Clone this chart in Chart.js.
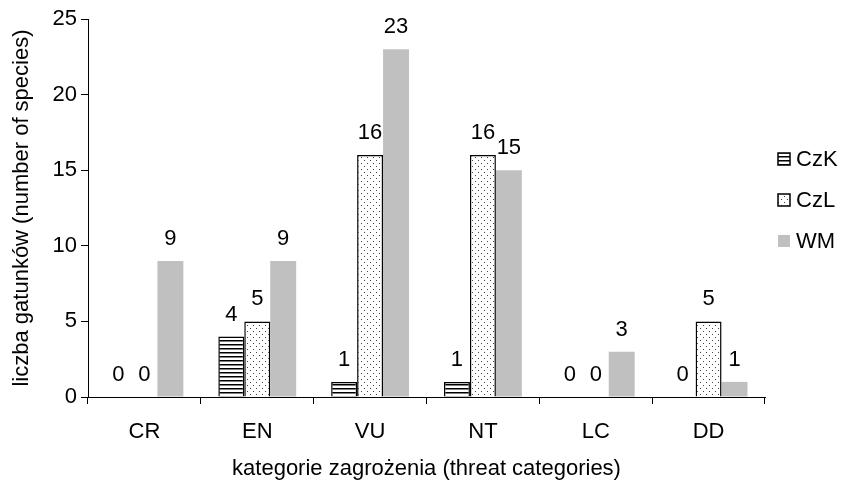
<!DOCTYPE html>
<html>
<head>
<meta charset="utf-8">
<script src="https://cdn.jsdelivr.net/npm/chart.js@4"></script>
<style>
html,body{margin:0;padding:0;background:#fff;}
#wrap{width:842px;height:482px;}
</style>
</head>
<body>
<div id="wrap"><canvas id="c" width="842" height="482"></canvas></div>
<script>
const categories = ['CR', 'EN', 'VU', 'NT', 'LC', 'DD'];
const seriesNames = ['CzK', 'CzL', 'WM'];
const czk = [0, 4, 1, 1, 0, 0];
const czl = [0, 5, 16, 16, 0, 5];
const wm = [9, 9, 23, 15, 3, 1];
const yTicks = [0, 5, 10, 15, 20, 25];
const yTitle = 'liczba gatunków (number of species)';
const xTitle = 'kategorie zagrożenia (threat categories)';

const FONT = "'Liberation Sans', Arial, sans-serif";
const FS = 22;

function linesPattern() {
  const c = document.createElement('canvas');
  c.width = 4; c.height = 4;
  const g = c.getContext('2d');
  g.fillStyle = '#fff'; g.fillRect(0, 0, 4, 4);
  g.fillStyle = '#000'; g.fillRect(0, 0, 4, 1.5);
  return g.createPattern(c, 'repeat');
}
function dotsPattern() {
  const c = document.createElement('canvas');
  c.width = 6; c.height = 6;
  const g = c.getContext('2d');
  g.fillStyle = '#fff'; g.fillRect(0, 0, 6, 6);
  g.fillStyle = '#444';
  g.fillRect(1, 1, 1, 1);
  g.fillRect(4, 4, 1, 1);
  return g.createPattern(c, 'repeat');
}
const fills = [linesPattern(), dotsPattern(), '#c0c0c0'];
const borders = ['#000', '#000', '#c0c0c0'];
const bws = [1.5, 1.5, 0];

const valueLabels = {
  id: 'valueLabels',
  afterDatasetsDraw(chart) {
    const ctx = chart.ctx;
    ctx.save();
    ctx.font = FS + 'px ' + FONT;
    ctx.fillStyle = '#000';
    ctx.textAlign = 'center';
    ctx.textBaseline = 'alphabetic';
    chart.data.datasets.forEach((ds, i) => {
      const meta = chart.getDatasetMeta(i);
      meta.data.forEach((bar, j) => {
        ctx.fillText(String(ds.data[j]), bar.x, bar.y - 16);
      });
    });
    ctx.restore();
  }
};

const customLegend = {
  id: 'customLegend',
  afterDraw(chart) {
    const ctx = chart.ctx;
    const ys = [159, 200, 241];
    ctx.save();
    ctx.font = FS + 'px ' + FONT;
    ctx.textBaseline = 'middle';
    ctx.textAlign = 'left';
    chart.data.datasets.forEach((ds, i) => {
      const y = ys[i];
      ctx.fillStyle = fills[i];
      ctx.fillRect(778, y - 6, 12, 12);
      if (bws[i] > 0) {
        ctx.strokeStyle = '#000';
        ctx.lineWidth = 1.5;
        ctx.strokeRect(778, y - 6, 12, 12);
      }
      ctx.fillStyle = '#000';
      ctx.fillText(ds.label, 796, y + 1);
    });
    ctx.restore();
  }
};

const datasets = [czk, czl, wm].map((arr, i) => ({
  label: seriesNames[i],
  data: arr,
  backgroundColor: fills[i],
  borderColor: borders[i],
  borderWidth: (c) => (c.raw === 0 ? 0 : bws[i]),
  borderSkipped: 'bottom',
  categoryPercentage: 0.69,
  barPercentage: 1.0
}));

new Chart(document.getElementById('c'), {
  type: 'bar',
  data: { labels: categories, datasets },
  options: {
    responsive: false,
    animation: false,
    devicePixelRatio: 1,
    layout: { padding: { left: 0, top: 19, right: 77, bottom: 0 } },
    plugins: { legend: { display: false }, tooltip: { enabled: false } },
    scales: {
      x: {
        afterFit(s) { s.height = 85; },
        grid: { display: true, drawOnChartArea: false, drawTicks: true, tickLength: 7, color: '#000', offset: true },
        border: { display: true, color: '#000', width: 1 },
        ticks: { color: '#000', font: { family: FONT, size: FS }, padding: 15 },
        title: { display: true, text: xTitle, color: '#000', font: { family: FONT, size: FS }, padding: { top: 0, bottom: 0 } }
      },
      y: {
        min: 0, max: 25,
        afterFit(s) { s.width = 88; },
        afterBuildTicks(s) { s.ticks = yTicks.map(v => ({ value: v })); },
        grid: { display: true, drawOnChartArea: false, drawTicks: true, tickLength: 7, color: '#000' },
        border: { display: true, color: '#000', width: 1 },
        ticks: { color: '#000', font: { family: FONT, size: FS }, padding: 4 },
        title: { display: true, text: yTitle, color: '#000', font: { family: FONT, size: FS }, padding: { top: 9, bottom: 0 } }
      }
    }
  },
  plugins: [valueLabels, customLegend]
});
</script>
</body>
</html>
